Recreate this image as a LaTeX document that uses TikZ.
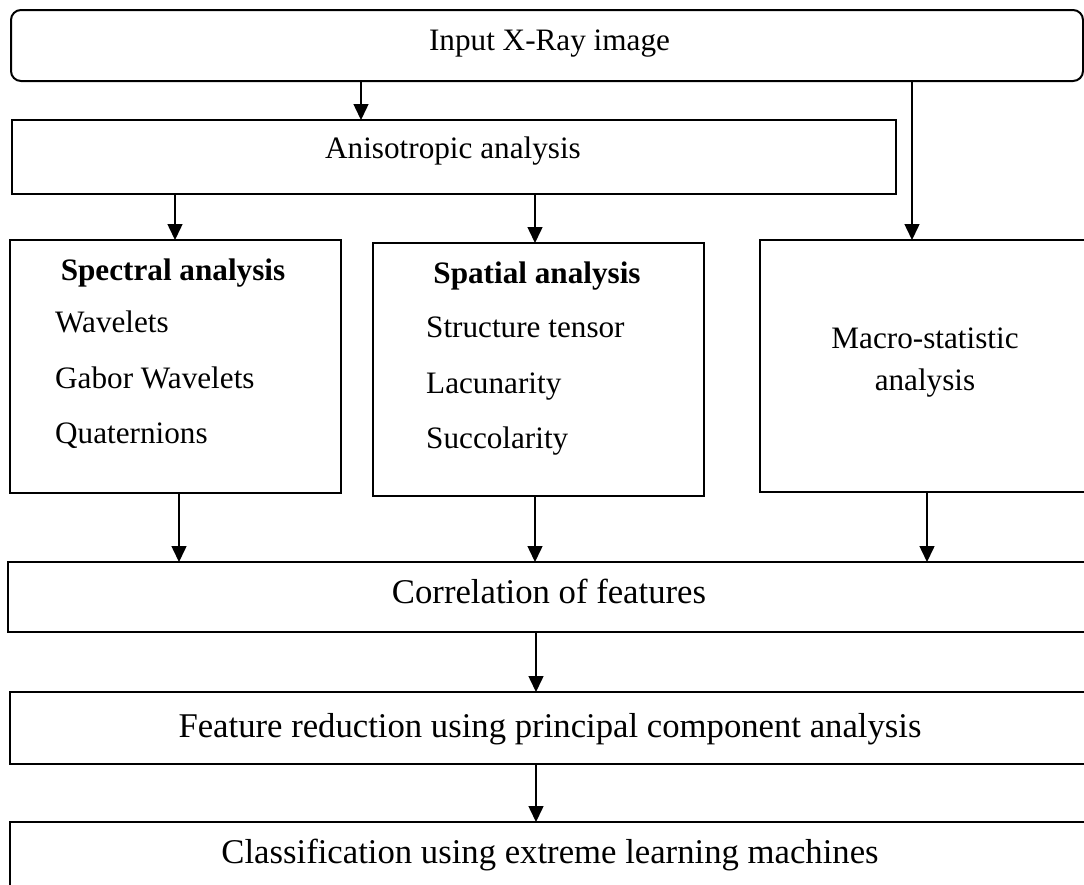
\documentclass[tikz,border=0pt]{standalone}
\usepackage{fontspec}
\setmainfont{Liberation Serif}
\usetikzlibrary{arrows.meta}
\begin{document}
\begin{tikzpicture}[x=1pt,y=-1pt,
  box/.style={draw=black,line width=2pt,inner sep=0pt,outer sep=0pt,rectangle},
  arr/.style={line width=1.5pt,-{Triangle[width=15pt,length=16pt]}},
  txt/.style={inner sep=0pt,font=\fontsize{31.2}{37}\selectfont},
  btxt/.style={inner sep=0pt,font=\fontsize{31.2}{37}\selectfont\bfseries},
  ltxt/.style={inner sep=0pt,font=\fontsize{34.7}{40}\selectfont}]
\useasboundingbox (0,0) rectangle (1084,884);
\clip (0,0) rectangle (1084,884);
\fill[white] (0,0) rectangle (1084,884);
% boxes
\node[box,rounded corners=10pt,minimum width=1072pt,minimum height=71pt] (inp) at (547,45.5) {};
\node[box,minimum width=884pt,minimum height=74pt] (aniso) at (454,157) {};
\node[box,minimum width=331pt,minimum height=253pt] (spec) at (175.5,366.5) {};
\node[box,minimum width=331pt,minimum height=253pt] (spat) at (538.5,369.5) {};
\node[box,minimum width=340pt,minimum height=252pt] (macro) at (930,366) {};
\node[box,minimum width=1092pt,minimum height=70pt] (corr) at (554,597) {};
\node[box,minimum width=1090pt,minimum height=72pt] (feat) at (555,728) {};
\node[box,minimum width=1090pt,minimum height=88pt] (clas) at (555,866) {};
% texts
\node[txt,anchor=base] (tinp) at (549.5,50) {Input X-Ray image};
\node[txt,anchor=base] (taniso) at (453,158) {Anisotropic analysis};
\node[btxt,anchor=base] (tspec) at (173,280) {Spectral analysis};
\node[txt,anchor=base west] (tspec1) at (55,332) {Wavelets};
\node[txt,anchor=base west] (tspec2) at (55,388) {Gabor Wavelets};
\node[txt,anchor=base west] (tspec3) at (55,443) {Quaternions};
\node[btxt,anchor=base] (tspat) at (537,283) {Spatial analysis};
\node[txt,anchor=base west] (tspat1) at (426,337) {Structure tensor};
\node[txt,anchor=base west] (tspat2) at (426,393) {Lacunarity};
\node[txt,anchor=base west] (tspat3) at (426,448) {Succolarity};
\node[txt,anchor=base] (tmacro1) at (925,348) {Macro-statistic};
\node[txt,anchor=base] (tmacro2) at (925,390) {analysis};
\node[ltxt,anchor=base] (tcorr) at (549,603) {Correlation of features};
\node[ltxt,anchor=base] (tfeat) at (550,737) {Feature reduction using principal component analysis};
\node[ltxt,anchor=base] (tclas) at (550,863) {Classification using extreme learning machines};
% arrow x positions
\coordinate (xa) at (361,0);
\coordinate (xb) at (912,0);
\coordinate (xc) at (175,0);
\coordinate (xd) at (535,0);
\coordinate (xe) at (179,0);
\coordinate (xf) at (927,0);
\coordinate (xg) at (536,0);
% connectors
\draw[arr] (inp.south -| xa) -- (aniso.north -| xa);
\draw[arr] (inp.south -| xb) -- (macro.north -| xb);
\draw[arr] (aniso.south -| xc) -- (spec.north -| xc);
\draw[arr] (aniso.south -| xd) -- (spat.north -| xd);
\draw[arr] (spec.south -| xe) -- (corr.north -| xe);
\draw[arr] (spat.south -| xd) -- (corr.north -| xd);
\draw[arr] (macro.south -| xf) -- (corr.north -| xf);
\draw[arr] (corr.south -| xg) -- (feat.north -| xg);
\draw[arr] (feat.south -| xg) -- (clas.north -| xg);
\end{tikzpicture}
\end{document}
